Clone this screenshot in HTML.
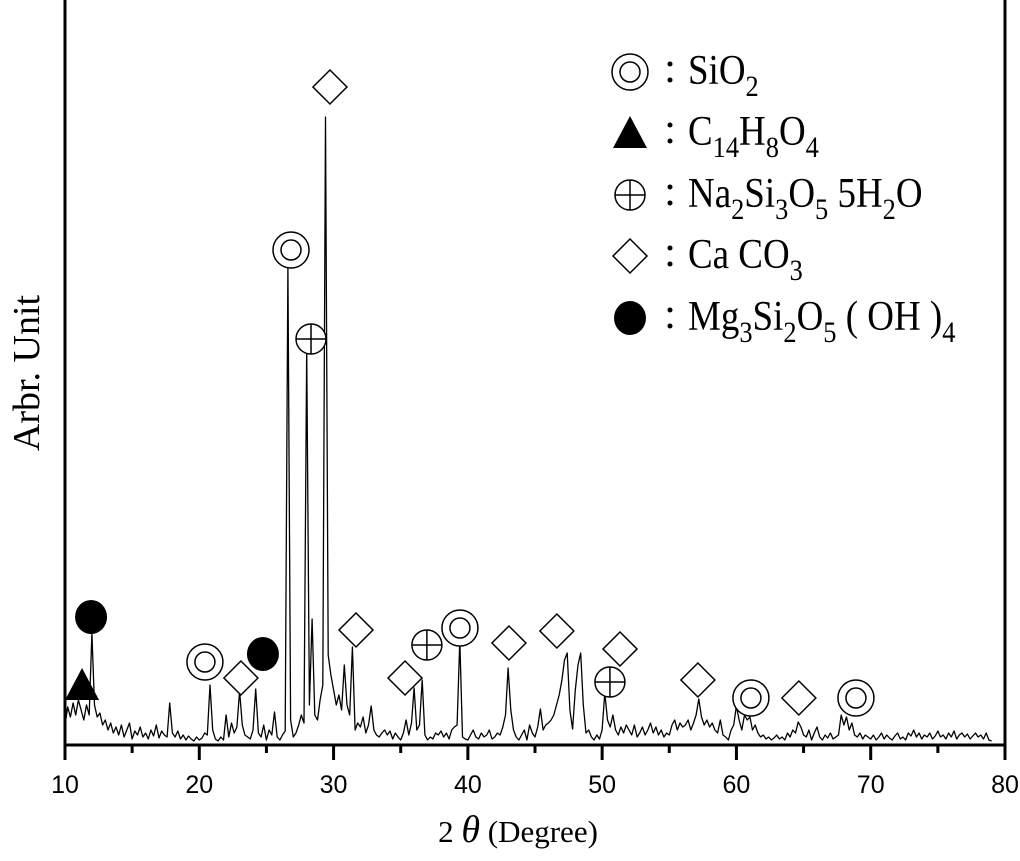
<!DOCTYPE html>
<html><head><meta charset="utf-8"><style>
html,body{margin:0;padding:0;background:#fff;}
#wrap{position:relative;width:1020px;height:861px;overflow:hidden;background:#fff;}
svg{position:absolute;left:0;top:0;}
.lg{position:absolute;font-family:"Liberation Serif",serif;font-size:42px;color:#000;white-space:nowrap;line-height:1;transform-origin:left center;transform:scaleX(0.88);}
.lg sub{font-size:30px;vertical-align:-12px;line-height:0;}
</style></head><body>
<div id="wrap">
<svg id="chart" width="1020" height="861"></svg>
<div class="lg" style="left:688px;top:50px">SiO<sub>2</sub></div>
<div class="lg" style="left:688px;top:111px">C<sub>14</sub>H<sub>8</sub>O<sub>4</sub></div>
<div class="lg" style="left:688px;top:173px">Na<sub>2</sub>Si<sub>3</sub>O<sub>5</sub> 5H<sub>2</sub>O</div>
<div class="lg" style="left:688px;top:234px">Ca CO<sub>3</sub></div>
<div class="lg" style="left:688px;top:296px">Mg<sub>3</sub>Si<sub>2</sub>O<sub>5</sub> ( OH )<sub>4</sub></div>
</div>
<script>
const startAngle = 10.0;
const stepAngle = 0.2;
const intensity = [
20,38,28,42,30,45,35,25,40,30,
112,40,28,32,20,25,15,22,12,18,
10,20,8,15,22,6,14,10,18,8,
12,6,15,9,20,7,14,10,8,42,
12,8,14,6,10,5,9,6,4,8,
5,7,12,10,60,15,6,4,8,5,
30,8,22,12,18,54,20,10,8,6,
15,56,12,8,20,5,15,10,33,8,
5,10,14,480,25,8,12,20,30,22,
395,40,126,30,25,45,60,628,90,70,
55,40,50,35,80,40,30,98,15,22,
18,28,12,20,39,15,10,8,12,15,
10,14,6,12,8,5,12,25,10,22,
57,15,20,65,10,5,8,6,12,10,
14,8,12,6,15,18,20,105,8,6,
5,10,15,8,6,12,8,10,15,6,
8,12,10,18,30,77,35,15,8,5,
10,15,5,20,12,8,18,36,15,20,
22,25,30,40,50,65,85,92,35,16,
55,80,92,40,12,15,8,5,10,6,
15,52,25,18,30,15,10,18,12,20,
15,10,20,8,12,18,10,15,22,12,
18,10,15,8,12,10,20,25,15,22,
18,20,25,15,22,30,46,28,20,25,
18,22,15,12,25,10,8,5,15,20,
39,25,15,30,25,28,15,20,12,8,
10,6,8,5,7,10,6,8,5,12,
8,15,12,23,18,10,8,15,5,12,
18,8,5,10,7,12,6,8,10,30,
20,28,15,22,10,8,12,6,10,8,
6,10,5,8,12,6,10,7,5,9,
12,6,8,5,12,9,15,8,12,6,
10,8,12,6,9,14,8,10,6,12,
8,14,6,10,12,8,11,6,9,12,
8,10,6,12,5,4];
const xTicks = [10,20,30,40,50,60,70,80];
const xMinorTicks = [15,25,35,45,55,65,75];
const markerTypes = ['tri','dot','dot','dc','dc','dc','dc','dc','plus','plus','plus','dia','dia','dia','dia','dia','dia','dia','dia','dia'];
const markerAngles = [11.27,11.94,24.74,20.42,26.83,39.41,61.08,68.9,28.32,36.95,50.58,29.73,23.1,31.67,35.32,43.06,46.63,51.33,57.13,64.65];
const markerHeights = [60,128,91,83,495,117,47,47,406,100,63,658,67,115,67,102,114,96,65,47];
const legendTypes = ['dc','tri','plus','dia','dot'];

const X0=65,X1=1005,Y0=745;
function xs(a){return X0+(a-10)*(X1-X0)/70;}
function ys(v){return Y0-v;}
const svg=document.getElementById('chart');
const NS='http://www.w3.org/2000/svg';
function mk(tag,attrs,parent){const e=document.createElementNS(NS,tag);for(const k in attrs)e.setAttribute(k,attrs[k]);(parent||svg).appendChild(e);return e;}

let pts=intensity.map((v,i)=>xs(startAngle+i*stepAngle).toFixed(1)+','+ys(v).toFixed(1)).join(' ');
const line=mk('polyline',{points:pts,fill:'none',stroke:'#000','stroke-width':1.3,'stroke-linejoin':'round'});



const ax=mk('path',{d:`M${X0},0 V${Y0} H${X1} V0`,fill:'none',stroke:'#000','stroke-width':3});


xTicks.forEach(t=>{
  const tk=mk('line',{x1:xs(t),x2:xs(t),y1:Y0,y2:Y0+15,stroke:'#000','stroke-width':3});
  
  
  const tl=mk('text',{x:xs(t),y:Y0+48,'text-anchor':'middle','font-family':'Liberation Sans, sans-serif','font-size':25});
  tl.textContent=t;
  
  
});
xMinorTicks.forEach(t=>{
  const tk=mk('line',{x1:xs(t),x2:xs(t),y1:Y0,y2:Y0+8,stroke:'#000','stroke-width':3});
  
  
});
const xt=mk('text',{x:518,y:842,'text-anchor':'middle','font-family':'Liberation Serif, serif','font-size':31});
xt.innerHTML='2 <tspan font-style="italic" font-size="38">θ</tspan>  (Degree)';


const yt=mk('text',{x:0,y:0,'text-anchor':'middle','font-family':'Liberation Serif, serif','font-size':38,transform:'translate(39,373) rotate(-90)'});
yt.textContent='Arbr. Unit';



function symbol(type,cx,cy,g){
  if(type==='tri') mk('polygon',{points:`${cx-17},${cy+15} ${cx+17},${cy+15} ${cx},${cy-17}`,fill:'#000'},g);
  else if(type==='dot') mk('ellipse',{cx:cx,cy:cy,rx:16,ry:17,fill:'#000'},g);
  else if(type==='dc'){mk('circle',{cx:cx,cy:cy,r:18,fill:'#fff',stroke:'#000','stroke-width':1.5},g);mk('circle',{cx:cx,cy:cy,r:10,fill:'none',stroke:'#000','stroke-width':1.5},g);}
  else if(type==='plus'){mk('circle',{cx:cx,cy:cy,r:15,fill:'#fff',stroke:'#000','stroke-width':1.5},g);mk('path',{d:`M${cx-15},${cy}H${cx+15}M${cx},${cy-15}V${cy+15}`,stroke:'#000','stroke-width':1.5},g);}
  else if(type==='dia') mk('polygon',{points:`${cx},${cy-17} ${cx+17},${cy} ${cx},${cy+17} ${cx-17},${cy}`,fill:'#fff',stroke:'#000','stroke-width':1.5},g);
}
markerTypes.forEach((t,i)=>{
  const g=mk('g',{});
  
  
  symbol(t,xs(markerAngles[i]),ys(markerHeights[i]),g);
});
const legendY=[72,133,195,256,318];
legendTypes.forEach((t,i)=>{
  const g=mk('g',{});
  
  
  symbol(t,630,legendY[i],g);
  mk('circle',{cx:670,cy:legendY[i]-8,r:2.5,fill:'#000'},g);
  mk('circle',{cx:670,cy:legendY[i]+8,r:2.5,fill:'#000'},g);
});
</script>
</body></html>
